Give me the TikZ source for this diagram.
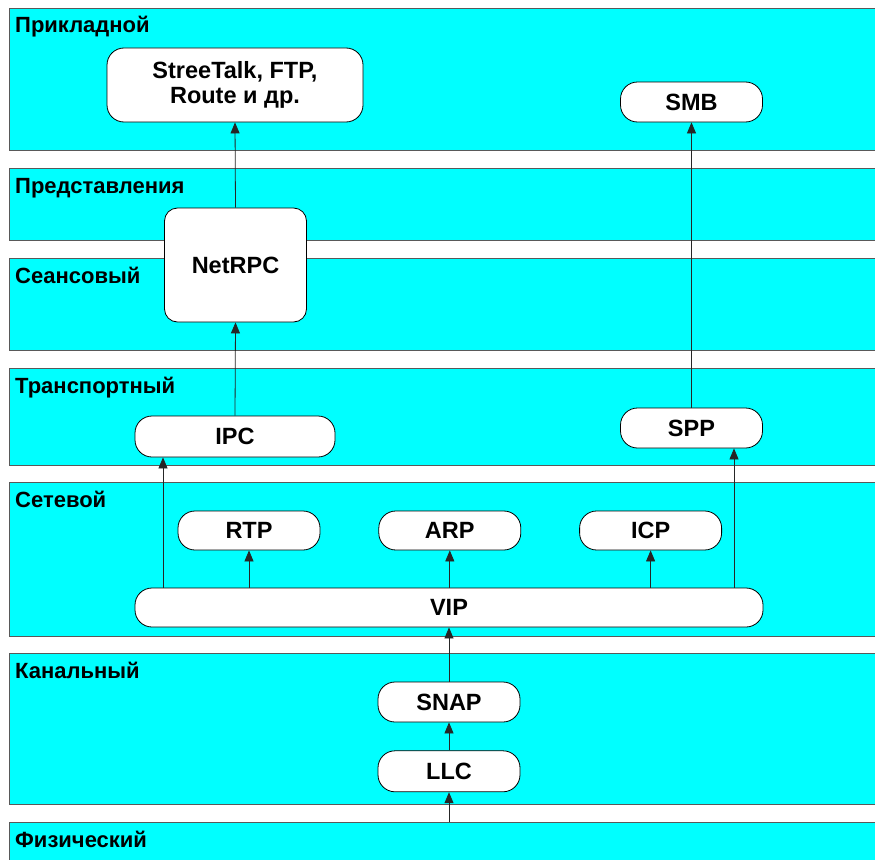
\documentclass[tikz,border=0pt]{standalone}
\usepackage{fontspec}
\setmainfont{Liberation Sans}
\usepackage{xcolor}
\usetikzlibrary{positioning,arrows.meta}

\definecolor{laycyan}{RGB}{0,255,255}

\begin{document}
\begin{tikzpicture}[
    x=1pt, y=-1pt,
    layer/.style={draw=black!65, line width=0.9pt, fill=laycyan, anchor=north west,
                  minimum width=867pt, inner sep=0pt},
    layname/.style={anchor=base west, inner sep=0pt,
                    font=\fontsize{22}{24}\selectfont\bfseries},
    proto/.style={draw, line width=0.8pt, fill=white, rounded corners=17pt, align=center,
                  minimum width=142pt, minimum height=40pt, inner sep=0pt,
                  font=\fontsize{23.5}{25}\selectfont\bfseries},
    arr/.style={-{Triangle[length=11pt,width=9pt]}, line width=0.8pt, black!85}
]
\useasboundingbox (0,0) rectangle (875,859);

% OSI layers
\node[layer, minimum height=142pt] (lapp)   at (9,8)   {};
\node[layer, minimum height=72pt]  (lpres)  at (9,168) {};
\node[layer, minimum height=92pt]  (lsess)  at (9,258) {};
\node[layer, minimum height=97pt]  (ltrans) at (9,368) {};
\node[layer, minimum height=154pt] (lnet)   at (9,482) {};
\node[layer, minimum height=151pt] (llink)  at (9,653) {};
\node[layer, minimum height=60pt]  (lphys)  at (9,822) {};

\node[layname] at ([xshift=6pt,yshift=-25pt]lapp.north west)   {Прикладной};
\node[layname] at ([xshift=6pt,yshift=-25pt]lpres.north west)  {Представления};
\node[layname] at ([xshift=6pt,yshift=-25pt]lsess.north west)  {Сеансовый};
\node[layname] at ([xshift=6pt,yshift=-25pt]ltrans.north west) {Транспортный};
\node[layname] at ([xshift=6pt,yshift=-25pt]lnet.north west)   {Сетевой};
\node[layname] at ([xshift=6pt,yshift=-25pt]llink.north west)  {Канальный};
\node[layname] at ([xshift=6pt,yshift=-25pt]lphys.north west)  {Физический};

% protocols
\node[proto, minimum width=256pt, minimum height=74pt] (apps) at (235,85) {StreeTalk, FTP,\\Route и др.};
\node[proto] (smb) at (691.5,102) {SMB};
\node[proto, minimum height=114pt, rounded corners=13pt] (netrpc) at (235.5,265) {NetRPC};
\node[proto, minimum width=200pt, minimum height=41pt] (ipc) at (235,436.5) {IPC};
\node[proto] (spp) at (691.5,428) {SPP};
\node[proto, minimum height=39pt] (rtp) at (249,530.5) {RTP};
\node[proto, minimum height=39pt, right=58pt of rtp] (arp) {ARP};
\node[proto, minimum height=39pt, right=58pt of arp] (icp) {ICP};
\node[proto, minimum width=628pt, minimum height=39pt] (vip) at (449,607.5) {VIP};
\node[proto] (snap) at (449,702) {SNAP};
\node[proto, minimum height=41pt, below=28pt of snap] (llc) {LLC};

% arrows
\coordinate (ipcin) at ([xshift=-72pt]ipc.south);
\coordinate (sppin) at ([xshift=42.5pt]spp.south);
\draw[arr] (netrpc.north) -- (apps.south);
\draw[arr] (ipc.north) -- (netrpc.south);
\draw[arr] (spp.north) -- (smb.south);
\draw[arr] (vip.north -| ipcin) -- (ipcin);
\draw[arr] (vip.north -| sppin) -- (sppin);
\foreach \p in {rtp,arp,icp}
  \draw[arr] (vip.north -| \p.south) -- (\p.south);
\draw[arr] (snap.north) -- (vip.south);
\draw[arr] (llc.north) -- (snap.south);
\draw[arr] (llc.south |- lphys.north) -- (llc.south);

\end{tikzpicture}
\end{document}
